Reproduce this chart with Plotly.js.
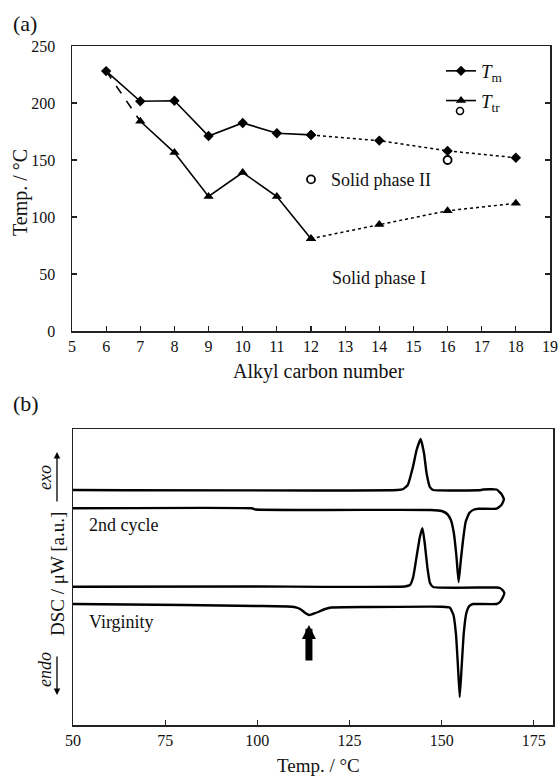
<!DOCTYPE html>
<html>
<head>
<meta charset="utf-8">
<script src="https://cdn.plot.ly/plotly-3.0.1.min.js"></script>
<style>html,body{margin:0;padding:0;background:#fff;}#chart{width:560px;height:776px;}</style>
</head>
<body>
<div id="chart"></div>
<script>
// ---- Panel (a): phase transition temperatures ----
const carbonNumber = [6, 7, 8, 9, 10, 11, 12, 14, 16, 18];
const meltingTemp = [228, 201.5, 202, 171, 182.5, 173.5, 172, 167, 158, 152];
const transitionTemp = [228, 184, 156.5, 118, 139, 118, 81, 93.5, 105.5, 112];
const openCircleCarbon = [12, 16];
const openCircleTemp = [133, 150];
const xTicksA = [5, 6, 7, 8, 9, 10, 11, 12, 13, 14, 15, 16, 17, 18, 19];
const yTicksA = [0, 50, 100, 150, 200, 250];

// ---- Panel (b): DSC curves (temperature, signal in a.u.) ----
const cycle2Temp = [50, 98.5, 99.5, 147, 150, 151.5, 152.5, 153.3, 154.0, 154.6, 155.2, 155.8, 156.5, 157.5, 158.8, 160, 164.9, 166.2, 166.9, 166.2, 164.9, 161.2, 160.8, 147.7, 146.8, 145.9, 145.2, 144.3, 143.2, 142.2, 140.8, 139.6, 138, 50];
const cycle2Signal = [216.7, 216.7, 215.5, 215, 214, 211, 205, 192, 169, 143, 165, 185, 203, 212, 215.5, 216.3, 216.3, 220, 225.7, 231, 235.5, 235.5, 235, 235, 238, 252, 272, 286, 275, 258, 240, 236, 235, 235];
const virginTemp = [50, 80, 100, 109.5, 111, 112, 113, 114, 115, 116.5, 118, 120, 130, 150, 152.2, 153.2, 153.9, 154.4, 154.9, 155.4, 156, 156.7, 157.5, 158.5, 160, 164.9, 165.8, 166.5, 167, 166.5, 165.8, 164.9, 161, 147.7, 146.8, 146.1, 145.4, 144.8, 144.1, 143.2, 142.3, 141.4, 140, 100, 50];
const virginSignal = [121, 120, 119, 118.3, 117, 115, 112, 110, 111, 113, 115.5, 117.5, 118, 118.3, 117.5, 110, 90, 60, 28, 57, 92, 112, 119, 121, 121, 121, 123, 127, 132, 135, 137, 137.5, 137.5, 138, 142.3, 158.3, 182, 196.7, 188.3, 168.3, 148.3, 140, 138.5, 138.5, 138.3];
const arrowTemp = 114;
const arrowSignal = 100;
const xTicksB = [50, 75, 100, 125, 150, 175];

const W = 560, H = 776;
const px = v => v / W;
const py = v => 1 - v / H;
const serif = 'Liberation Serif, Times New Roman, serif';

const solidIdx = [0, 1, 2, 3, 4, 5, 6];
const dotIdx = [6, 7, 8, 9];
const pick = (arr, idx) => idx.map(i => arr[i]);

const traces = [
  { x: pick(carbonNumber, solidIdx), y: pick(meltingTemp, solidIdx), xaxis: 'x', yaxis: 'y',
    mode: 'lines+markers', name: '<i>T</i><sub>m</sub>', legendgroup: 'a',
    line: { color: '#000', width: 1.6 }, marker: { symbol: 'diamond', size: 8, color: '#000' } },
  { x: pick(carbonNumber, dotIdx), y: pick(meltingTemp, dotIdx), xaxis: 'x', yaxis: 'y',
    mode: 'lines+markers', showlegend: false,
    line: { color: '#000', width: 1.5, dash: 'dot' }, marker: { symbol: 'diamond', size: 8, color: '#000' } },
  { x: pick(carbonNumber, [1, 2, 3, 4, 5, 6]), y: pick(transitionTemp, [1, 2, 3, 4, 5, 6]), xaxis: 'x', yaxis: 'y',
    mode: 'lines+markers', name: '<i>T</i><sub>tr</sub>', legendgroup: 'b',
    line: { color: '#000', width: 1.6 }, marker: { symbol: 'triangle-up', size: 9, color: '#000' } },
  { x: pick(carbonNumber, [0, 1]), y: pick(transitionTemp, [0, 1]), xaxis: 'x', yaxis: 'y',
    mode: 'lines', showlegend: false, line: { color: '#000', width: 1.6, dash: 'dash' } },
  { x: pick(carbonNumber, dotIdx), y: pick(transitionTemp, dotIdx), xaxis: 'x', yaxis: 'y',
    mode: 'lines+markers', showlegend: false,
    line: { color: '#000', width: 1.5, dash: 'dot' }, marker: { symbol: 'triangle-up', size: 9, color: '#000' } },
  { x: openCircleCarbon, y: openCircleTemp, xaxis: 'x', yaxis: 'y', mode: 'markers', showlegend: false,
    marker: { symbol: 'circle-open', size: 8, color: '#000', line: { width: 1.8, color: '#000' } } },
  { x: cycle2Temp, y: cycle2Signal, xaxis: 'x2', yaxis: 'y2', mode: 'lines', showlegend: false,
    line: { color: '#000', width: 2.4, shape: 'spline', smoothing: 0.4 } },
  { x: virginTemp, y: virginSignal, xaxis: 'x2', yaxis: 'y2', mode: 'lines', showlegend: false,
    line: { color: '#000', width: 2.4, shape: 'spline', smoothing: 0.4 } }
];

const axisCommon = { showgrid: false, zeroline: false, showline: true, linecolor: '#222', linewidth: 1.5,
  ticks: 'inside', ticklen: 5, tickwidth: 1.2, tickcolor: '#222',
  tickfont: { family: serif, size: 16, color: '#111' } };

const layout = {
  width: W, height: H, margin: { l: 0, r: 0, t: 0, b: 0 },
  paper_bgcolor: '#fff', plot_bgcolor: '#fff',
  font: { family: serif, color: '#111' },
  xaxis: Object.assign({}, axisCommon, { domain: [px(72), px(550)], range: [5, 19], tickvals: xTicksA,
    mirror: true, anchor: 'y', ticklabelstandoff: 0 }),
  yaxis: Object.assign({}, axisCommon, { domain: [py(331), py(46)], range: [0, 250], tickvals: yTicksA,
    mirror: 'ticks', anchor: 'x', ticklabelstandoff: 12 }),
  xaxis2: Object.assign({}, axisCommon, { domain: [px(73), px(553)], range: [50, 180.2], tickvals: xTicksB,
    mirror: true, anchor: 'y2', ticklabelstandoff: 0 }),
  yaxis2: Object.assign({}, axisCommon, { domain: [py(725), py(429)], range: [0, 296], ticks: '',
    showticklabels: false, mirror: true, anchor: 'x2' }),
  showlegend: true,
  legend: { x: px(441), y: py(52), xanchor: 'left', yanchor: 'top', bgcolor: 'rgba(0,0,0,0)',
    font: { family: serif, size: 19, color: '#111' }, traceorder: 'grouped', tracegroupgap: 2,
    itemwidth: 30 },
  shapes: [
    { type: 'circle', xref: 'paper', yref: 'paper', x0: px(456.5), x1: px(463.5), y0: py(114.5), y1: py(107.5),
      line: { color: '#000', width: 1.6 } }
  ],
  annotations: [
    { text: '(a)', x: px(11), y: py(23), xref: 'paper', yref: 'paper', xanchor: 'left', yanchor: 'middle',
      showarrow: false, font: { family: serif, size: 22 } },
    { text: '(b)', x: px(11), y: py(403), xref: 'paper', yref: 'paper', xanchor: 'left', yanchor: 'middle',
      showarrow: false, font: { family: serif, size: 22 } },
    { text: 'Alkyl carbon number', x: px(318), y: py(371), xref: 'paper', yref: 'paper',
      xanchor: 'center', yanchor: 'middle', showarrow: false, font: { family: serif, size: 20 } },
    { text: 'Temp. / °C', x: px(20), y: py(193), xref: 'paper', yref: 'paper', textangle: -90,
      xanchor: 'center', yanchor: 'middle', showarrow: false, font: { family: serif, size: 20 } },
    { text: 'Solid phase II', x: 14.05, y: 132.5, xref: 'x', yref: 'y', showarrow: false,
      font: { family: serif, size: 18 } },
    { text: 'Solid phase I', x: 13.99, y: 46.5, xref: 'x', yref: 'y', showarrow: false,
      font: { family: serif, size: 18 } },
    { text: 'Temp. / °C', x: px(318), y: py(765), xref: 'paper', yref: 'paper',
      xanchor: 'center', yanchor: 'middle', showarrow: false, font: { family: serif, size: 19 } },
    { text: 'DSC / μW [a.u.]', x: px(57), y: py(574), xref: 'paper', yref: 'paper', textangle: -90,
      xanchor: 'center', yanchor: 'middle', showarrow: false, font: { family: serif, size: 19 } },
    { text: '<i>exo</i>', x: px(45), y: py(478), xref: 'paper', yref: 'paper', textangle: -90,
      xanchor: 'center', yanchor: 'middle', showarrow: false, font: { family: serif, size: 18 } },
    { text: '<i>endo</i>', x: px(45), y: py(670), xref: 'paper', yref: 'paper', textangle: -90,
      xanchor: 'center', yanchor: 'middle', showarrow: false, font: { family: serif, size: 18 } },
    { text: '', x: px(57), y: py(452), xref: 'paper', yref: 'paper', showarrow: true, ax: 0, ay: 51,
      arrowhead: 2, arrowsize: 1, arrowwidth: 1.3, arrowcolor: '#000' },
    { text: '', x: px(57), y: py(695), xref: 'paper', yref: 'paper', showarrow: true, ax: 0, ay: -40,
      arrowhead: 2, arrowsize: 1, arrowwidth: 1.3, arrowcolor: '#000' },
    { text: '2nd cycle', x: px(87), y: py(525), xref: 'paper', yref: 'paper', xanchor: 'left', yanchor: 'middle',
      showarrow: false, font: { family: serif, size: 18 } },
    { text: 'Virginity', x: px(87), y: py(622), xref: 'paper', yref: 'paper', xanchor: 'left', yanchor: 'middle',
      showarrow: false, font: { family: serif, size: 18 } },
    { text: '', x: arrowTemp, y: arrowSignal, xref: 'x2', yref: 'y2', showarrow: true, ax: 0, ay: 37,
      arrowhead: 2, arrowsize: 0.4, arrowwidth: 7, arrowcolor: '#000' }
  ]
};

Plotly.newPlot('chart', traces, layout, { staticPlot: true, displayModeBar: false });
</script>
</body>
</html>
